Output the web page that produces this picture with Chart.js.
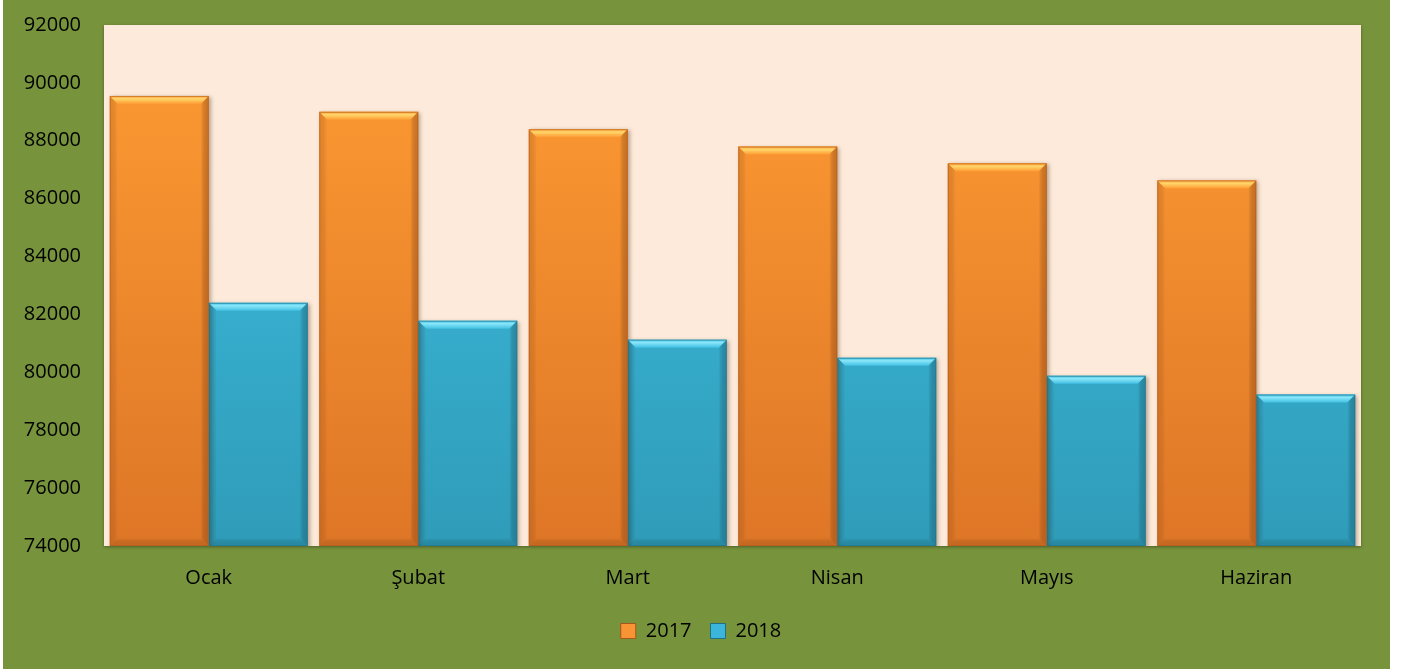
<!DOCTYPE html>
<html>
<head>
<meta charset="utf-8">
<script src="https://cdn.jsdelivr.net/npm/chart.js@4.4.1/dist/chart.umd.min.js"></script>
<style>
  html, body { margin: 0; padding: 0; background: #ffffff; }
  #wrap {
    position: absolute;
    left: 3px;
    top: 0;
    width: 1387px;
    height: 669px;
    background: #77933c;
  }
</style>
</head>
<body>
<div id="wrap"><canvas id="chart"></canvas></div>
<script>
// ----- data -----
const categories = ["Ocak", "Şubat", "Mart", "Nisan", "Mayıs", "Haziran"];
const values2017 = [89550, 89000, 88400, 87800, 87220, 86630];
const values2018 = [82400, 81780, 81130, 80500, 79880, 79230];
const yTicks = [74000, 76000, 78000, 80000, 82000, 84000, 86000, 88000, 90000, 92000];

// ----- styles -----
const FONT = "'Open Sans', 'Liberation Sans', sans-serif";
const PLOT_BG = "#fdeada";
const styles = {
  orange: { top: "#ff9c33", bottom: "#de7627", light: "#ffd76c", dark: "#a9561a", solid: "#f89433" },
  blue: { top: "#40c0e3", bottom: "#2f9cb9", light: "#8ae6f9", dark: "#1f6f85", solid: "#3bb6da" }
};

function barGradient(ctx, st) {
  const area = ctx.chart.chartArea;
  if (!area) return st.solid;
  const g = ctx.chart.ctx.createLinearGradient(0, area.top, 0, area.bottom);
  g.addColorStop(0, st.top);
  g.addColorStop(1, st.bottom);
  return g;
}

// plot area background
const plotBackground = {
  id: "plotBackground",
  beforeDraw(chart) {
    const { ctx, chartArea: a } = chart;
    ctx.save();
    ctx.shadowColor = "rgba(0,0,0,0.35)";
    ctx.shadowBlur = 3;
    ctx.shadowOffsetY = 1;
    ctx.fillStyle = PLOT_BG;
    ctx.fillRect(a.left, a.top, a.right - a.left, a.bottom - a.top);
    ctx.restore();
  }
};

// legend sits a little right of the canvas centre
const legendShift = {
  id: "legendShift",
  afterLayout(chart) {
    if (chart.legend) chart.legend.left += 38;
  }
};

// bar shadow
const barShadow = {
  id: "barShadow",
  beforeDatasetDraw(chart) {
    const ctx = chart.ctx;
    ctx.save();
    ctx.shadowColor = "rgba(60,30,0,0.35)";
    ctx.shadowBlur = 4;
    ctx.shadowOffsetX = 2;
    ctx.shadowOffsetY = 1;
  },
  afterDatasetDraw(chart) {
    chart.ctx.restore();
  }
};

// bevel over each bar
const bevel = {
  id: "bevel",
  afterDatasetsDraw(chart) {
    const ctx = chart.ctx;
    const area = chart.chartArea;
    const b = 8;
    chart.data.datasets.forEach((ds, i) => {
      const st = ds.bevelStyle;
      chart.getDatasetMeta(i).data.forEach((bar) => {
        const p = bar.getProps(["x", "y", "base", "width"], true);
        const l = p.x - p.width / 2, r = p.x + p.width / 2;
        const t = p.y, btm = Math.min(p.base, area.bottom);
        ctx.save();
        // top
        let g = ctx.createLinearGradient(0, t, 0, t + b);
        g.addColorStop(0, st.top);
        g.addColorStop(0.35, st.light);
        g.addColorStop(1, st.top);
        ctx.fillStyle = g;
        ctx.beginPath();
        ctx.moveTo(l, t); ctx.lineTo(r, t); ctx.lineTo(r - b, t + b); ctx.lineTo(l + b, t + b);
        ctx.closePath(); ctx.fill();
        // right
        g = ctx.createLinearGradient(r - b, 0, r, 0);
        g.addColorStop(0, "rgba(0,0,0,0)");
        g.addColorStop(1, st.dark);
        ctx.globalAlpha = 0.5;
        ctx.fillStyle = g;
        ctx.beginPath();
        ctx.moveTo(r, t); ctx.lineTo(r, btm); ctx.lineTo(r - b, btm - b); ctx.lineTo(r - b, t + b);
        ctx.closePath(); ctx.fill();
        // left
        g = ctx.createLinearGradient(l, 0, l + b, 0);
        g.addColorStop(0, st.dark);
        g.addColorStop(1, "rgba(0,0,0,0)");
        ctx.globalAlpha = 0.25;
        ctx.fillStyle = g;
        ctx.beginPath();
        ctx.moveTo(l, t); ctx.lineTo(l + b, t + b); ctx.lineTo(l + b, btm - b); ctx.lineTo(l, btm);
        ctx.closePath(); ctx.fill();
        // bottom
        g = ctx.createLinearGradient(0, btm - b, 0, btm);
        g.addColorStop(0, "rgba(0,0,0,0)");
        g.addColorStop(1, st.dark);
        ctx.globalAlpha = 0.35;
        ctx.fillStyle = g;
        ctx.beginPath();
        ctx.moveTo(l, btm); ctx.lineTo(r, btm); ctx.lineTo(r - b, btm - b); ctx.lineTo(l + b, btm - b);
        ctx.closePath(); ctx.fill();
        // edge
        ctx.globalAlpha = 0.55;
        ctx.strokeStyle = st.dark;
        ctx.lineWidth = 1;
        ctx.strokeRect(l + 0.5, t + 0.5, p.width - 1, btm - t - 1);
        ctx.restore();
      });
    });
  }
};

new Chart(document.getElementById("chart"), {
  type: "bar",
  data: {
    labels: categories,
    datasets: [
      {
        label: "2017",
        data: values2017,
        backgroundColor: (c) => barGradient(c, styles.orange),
        bevelStyle: styles.orange,
        borderWidth: 0
      },
      {
        label: "2018",
        data: values2018,
        backgroundColor: (c) => barGradient(c, styles.blue),
        bevelStyle: styles.blue,
        borderWidth: 0
      }
    ]
  },
  options: {
    responsive: true,
    maintainAspectRatio: false,
    animation: false,
    datasets: {
      bar: {
        categoryPercentage: 0.945,
        barPercentage: 1.0
      }
    },
    layout: {
      padding: { top: 25, right: 29, bottom: 18, left: 0 }
    },
    plugins: {
      tooltip: { enabled: false },
      legend: {
        position: "bottom",
        labels: {
          color: "#000000",
          boxWidth: 15,
          boxHeight: 15,
          padding: 19,
          font: { family: FONT, size: 20 },
          generateLabels: (chart) => chart.data.datasets.map((ds, i) => ({
            text: ds.label,
            fillStyle: ds.bevelStyle.solid,
            strokeStyle: ds.bevelStyle.dark,
            lineWidth: 1,
            datasetIndex: i,
            hidden: false
          }))
        }
      }
    },
    scales: {
      x: {
        grid: { display: false, drawTicks: false },
        border: { display: false },
        ticks: {
          color: "#000000",
          padding: 20,
          font: { family: FONT, size: 20 }
        },
        afterFit: (scale) => { scale.height = 56; }
      },
      y: {
        min: yTicks[0],
        max: yTicks[yTicks.length - 1],
        afterBuildTicks: (scale) => { scale.ticks = yTicks.map((v) => ({ value: v })); },
        grid: { display: false, drawTicks: true, tickLength: 23 },
        border: { display: false },
        ticks: {
          color: "#000000",
          padding: 0,
          font: { family: FONT, size: 20 },
          callback: (value) => String(value)
        },
        afterFit: (scale) => { scale.width = 101; }
      }
    }
  },
  plugins: [plotBackground, legendShift, barShadow, bevel]
});
</script>
</body>
</html>
